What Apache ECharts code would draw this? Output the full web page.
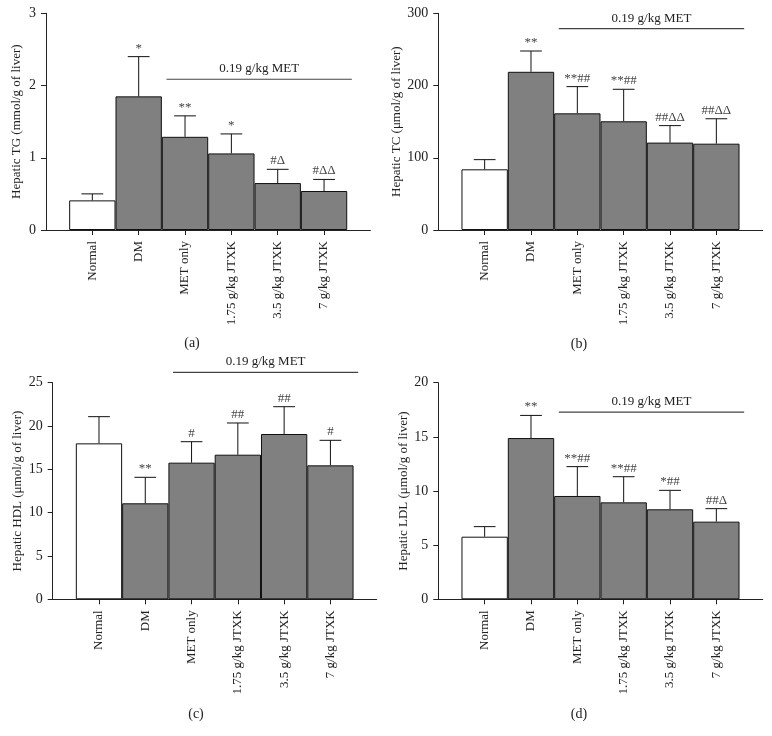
<!DOCTYPE html>
<html>
<head>
<meta charset="utf-8">
<script src="https://cdn.jsdelivr.net/npm/echarts@6.0.0/dist/echarts.min.js"></script>
<style>
  html, body { margin: 0; padding: 0; background: #fff; }
  #main { width: 772px; height: 736px; }
</style>
</head>
<body>
<div id="main"></div>
<script>
// 组别
const groups = ['Normal', 'DM', 'MET only', '1.75 g/kg JTXK', '3.5 g/kg JTXK', '7 g/kg JTXK'];

// (a) TG
const tgMean = [0.41, 1.85, 1.29, 1.06, 0.65, 0.54];
const tgErr = [0.09, 0.55, 0.29, 0.27, 0.19, 0.16];
const tgMarks = ['', '*', '**', '*', '#Δ', '#ΔΔ'];

// (b) TC
const tcMean = [84, 219, 161.5, 150.5, 121, 119.5];
const tcErr = [13.4, 28.8, 37, 44.3, 23.5, 34.5];
const tcMarks = ['', '**', '**##', '**##', '##ΔΔ', '##ΔΔ'];

// (c) HDL
const hdlMean = [18.0, 11.08, 15.77, 16.69, 19.08, 15.46];
const hdlErr = [3.08, 3.0, 2.42, 3.66, 3.15, 2.89];
const hdlMarks = ['', '**', '#', '##', '##', '#'];

// (d) LDL
const ldlMean = [5.78, 14.89, 9.54, 8.95, 8.31, 7.17];
const ldlErr = [0.93, 2.09, 2.71, 2.37, 1.75, 1.2];
const ldlMarks = ['', '**', '**##', '**##', '*##', '##Δ'];

const metText = '0.19 g/kg MET';

const FONT = 'Liberation Serif';
const INK = '#222';

// 每个子图的布局
const panels = [
  { name: 'Hepatic TG (mmol/g of liver)', mean: tgMean, err: tgErr, marks: tgMarks,
    max: 3, interval: 1, metLevel: 2.087, nameGap: 23,
    grid: { left: 46, top: 13.3, width: 324.4, height: 216.7 }, cap: { x: 187, y: 331, t: '(a)' } },
  { name: 'Hepatic TC (μmol/g of liver)', mean: tcMean, err: tcErr, marks: tcMarks,
    max: 300, interval: 100, metLevel: 278.8, nameGap: 29,
    grid: { left: 438.3, top: 13.3, width: 324.4, height: 216.7 }, cap: { x: 574, y: 332, t: '(b)' } },
  { name: 'Hepatic HDL (μmol/g of liver)', mean: hdlMean, err: hdlErr, marks: hdlMarks,
    max: 25, interval: 5, metLevel: 26.2, nameGap: 29,
    grid: { left: 52.7, top: 382.7, width: 324, height: 216.6 }, cap: { x: 191, y: 702, t: '(c)' } },
  { name: 'Hepatic LDL (μmol/g of liver)', mean: ldlMean, err: ldlErr, marks: ldlMarks,
    max: 20, interval: 5, metLevel: 17.29, nameGap: 28,
    grid: { left: 438.3, top: 382.7, width: 324.4, height: 216.6 }, cap: { x: 574, y: 702, t: '(d)' } }
];

// 两端留空的类目，柱子落在 1..6
const cats = [''].concat(groups, ['']);

const option = {
  animation: false,
  backgroundColor: '#fff',
  title: panels.map(p => ({
    text: p.cap.t, left: p.cap.x, top: p.cap.y, textAlign: 'center',
    textStyle: { fontFamily: FONT, fontSize: 14, fontWeight: 'normal', color: INK }
  })),
  grid: panels.map(p => Object.assign({ outerBoundsMode: 'none', containLabel: false }, p.grid)),
  xAxis: panels.map((p, i) => ({
    type: 'category', gridIndex: i, data: cats, boundaryGap: false,
    axisLine: { lineStyle: { color: INK, width: 1 } },
    axisTick: { length: 5, lineStyle: { color: INK }, interval: (idx) => idx > 0 && idx < cats.length - 1 },
    axisLabel: { interval: 0, rotate: 90, margin: 11, fontFamily: FONT, fontSize: 13, color: INK },
    splitLine: { show: false }
  })),
  yAxis: panels.map((p, i) => ({
    type: 'value', gridIndex: i, min: 0, max: p.max, interval: p.interval,
    name: p.name, nameLocation: 'middle', nameGap: p.nameGap,
    nameTextStyle: { fontFamily: FONT, fontSize: 13, color: INK },
    axisLine: { show: true, lineStyle: { color: INK, width: 1 } },
    axisTick: { show: true, length: 5, lineStyle: { color: INK } },
    axisLabel: { margin: 10, fontFamily: FONT, fontSize: 14, color: INK },
    splitLine: { show: false }
  })),
  series: []
};

panels.forEach((p, i) => {
  // 柱子
  option.series.push({
    type: 'bar', xAxisIndex: i, yAxisIndex: i,
    barCategoryGap: '0%',
    data: ['-'].concat(p.mean.map((v, k) => ({
      value: v,
      itemStyle: { color: k === 0 ? '#fff' : '#808080' }
    })), ['-']),
    itemStyle: { borderColor: '#111', borderWidth: 1 },
    z: 2
  });
  // 误差线 + 显著性标记
  option.series.push({
    type: 'custom', xAxisIndex: i, yAxisIndex: i, clip: false, z: 3,
    encode: { x: 0, y: 1 },
    data: p.mean.map((v, k) => [k + 1, v, p.err[k]]),
    renderItem: (params, api) => {
      const x = api.value(0);
      const base = api.coord([x, api.value(1)]);
      const top = api.coord([x, api.value(1) + api.value(2)]);
      const half = api.size([1, 0])[0] * 0.235;
      return {
        type: 'group',
        children: [
          { type: 'line', shape: { x1: base[0], y1: base[1], x2: top[0], y2: top[1] },
            style: { stroke: '#111', lineWidth: 1 } },
          { type: 'line', shape: { x1: top[0] - half, y1: top[1], x2: top[0] + half, y2: top[1] },
            style: { stroke: '#111', lineWidth: 1 } },
          { type: 'text', style: {
              text: p.marks[params.dataIndex], x: top[0], y: top[1] - 2,
              align: 'center', verticalAlign: 'bottom',
              font: '13px "' + FONT + '"', fill: '#444' } }
        ]
      };
    }
  });
  // MET 横线
  option.series.push({
    type: 'custom', xAxisIndex: i, yAxisIndex: i, clip: false, z: 3,
    data: [[3, p.metLevel]],
    renderItem: (params, api) => {
      const bw = api.size([1, 0])[0];
      const a = api.coord([3, api.value(1)]);
      const b = api.coord([6, api.value(1)]);
      const x1 = a[0] - 0.4 * bw, x2 = b[0] + 0.6 * bw;
      return {
        type: 'group',
        children: [
          { type: 'line', shape: { x1: x1, y1: a[1], x2: x2, y2: a[1] },
            style: { stroke: '#444', lineWidth: 1.2 } },
          { type: 'text', style: {
              text: metText, x: (x1 + x2) / 2, y: a[1] - 4,
              align: 'center', verticalAlign: 'bottom',
              font: '13px "' + FONT + '"', fill: INK } }
        ]
      };
    }
  });
});

const chart = echarts.init(document.getElementById('main'));
chart.setOption(option);
</script>
</body>
</html>
